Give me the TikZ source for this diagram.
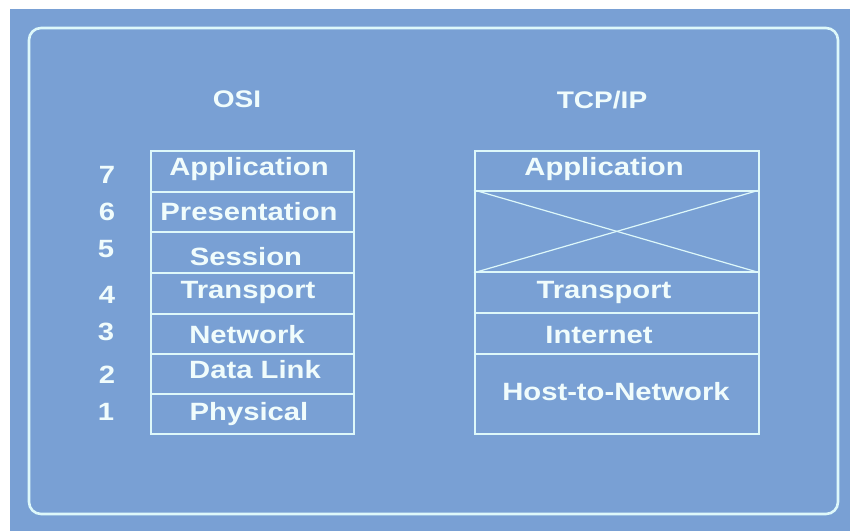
\documentclass[tikz,border=0pt]{standalone}
\usepackage{fontspec}
\setmainfont{Liberation Sans}[FakeStretch=1.17]
\definecolor{bg}{RGB}{121,160,212}
\definecolor{ln}{RGB}{222,248,250}
\definecolor{tx}{RGB}{240,252,252}
\begin{document}
\begin{tikzpicture}[x=1pt,y=-1pt,
  frame/.style={draw=ln, line width=2.6pt, rounded corners=12pt},
  osicell/.style={draw=ln, line width=1.7pt, minimum width=203pt, inner sep=0pt, anchor=north west},
  tcpcell/.style={draw=ln, line width=1.7pt, minimum width=284pt, inner sep=0pt, anchor=north west},
  lbl/.style={text=tx, font=\fontsize{25}{30}\selectfont\bfseries, anchor=base, inner sep=0pt},
  num/.style={text=tx, font=\fontsize{25}{30}\selectfont\bfseries, anchor=base, inner sep=0pt},
  ttl/.style={text=tx, font=\fontsize{24}{30}\selectfont\bfseries, anchor=base, inner sep=0pt},
  xline/.style={draw=ln, line width=1.2pt}]
\useasboundingbox (0,0) rectangle (850,531);
\fill[white] (0,0) rectangle (850,531);
\fill[bg] (10,9) rectangle (850,531);
\draw[frame] (29,28) rectangle (838,514);
% titles
\node[ttl] (tosi) at (237,107) {OSI};
\node[ttl] (ttcp) at (602,108) {TCP/IP};
% OSI cells
\node[osicell, minimum height=41pt] (o7) at (150,150) {};
\node[osicell, minimum height=40pt] (o6) at (150,191) {};
\node[osicell, minimum height=41pt] (o5) at (150,231) {};
\node[osicell, minimum height=41pt] (o4) at (150,272) {};
\node[osicell, minimum height=40pt] (o3) at (150,313) {};
\node[osicell, minimum height=40pt] (o2) at (150,353) {};
\node[osicell, minimum height=40pt] (o1) at (150,393) {};
% OSI labels
\node[lbl] (lo7) at (249,175) {Application};
\node[lbl] (lo6) at (249,220) {Presentation};
\node[lbl] (lo5) at (246,265) {Session};
\node[lbl] (lo4) at (248,298) {Transport};
\node[lbl] (lo3) at (247,343) {Network};
\node[lbl] (lo2) at (255,378) {Data Link};
\node[lbl] (lo1) at (249,420) {Physical};
% numbers
\node[num] (n7) at (107,183) {7};
\node[num] (n6) at (107,220) {6};
\node[num] (n5) at (106,257) {5};
\node[num] (n4) at (107,303) {4};
\node[num] (n3) at (106,340) {3};
\node[num] (n2) at (107,383) {2};
\node[num] (n1) at (106,420) {1};
% TCP/IP cells
\node[tcpcell, minimum height=40pt] (t4) at (474,150) {};
\node[tcpcell, minimum height=81pt] (tx) at (474,190) {};
\node[tcpcell, minimum height=41pt] (t3) at (474,271) {};
\node[tcpcell, minimum height=41pt] (t2) at (474,312) {};
\node[tcpcell, minimum height=80pt] (t1) at (474,353) {};
\draw[xline] (tx.north west) -- (tx.south east);
\draw[xline] (tx.south west) -- (tx.north east);
% TCP/IP labels
\node[lbl] (lt4) at (604,175) {Application};
\node[lbl] (lt3) at (604,298) {Transport};
\node[lbl] (lt2) at (599,343) {Internet};
\node[lbl] (lt1) at (616,400) {Host-to-Network};
\end{tikzpicture}
\end{document}
